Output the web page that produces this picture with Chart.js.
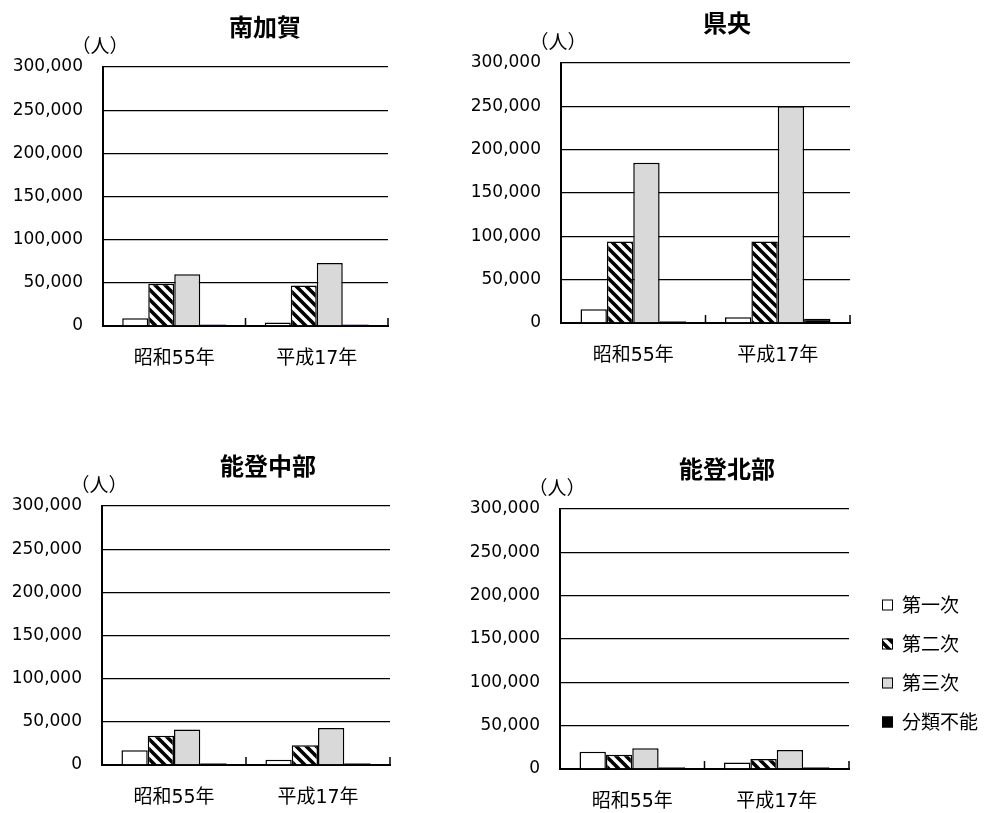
<!DOCTYPE html>
<html>
<head>
<meta charset="utf-8">
<script src="https://cdn.jsdelivr.net/npm/chart.js@4.4.0/dist/chart.umd.min.js"></script>
<style>
  body { margin: 0; background: #fff; overflow: hidden; width: 985px; height: 813px; position: relative; }
  canvas { position: absolute; }
</style>
</head>
<body>
<canvas id="c1" width="530" height="374" style="left:0;top:0"></canvas>
<canvas id="c2" width="514" height="371" style="left:470px;top:0"></canvas>
<canvas id="c3" width="536" height="393" style="left:0;top:420px"></canvas>
<canvas id="c4" width="514" height="397" style="left:470px;top:420px"></canvas>
<script>
const categories = ['昭和55年', '平成17年'];
const seriesNames = ['第一次', '第二次', '第三次', '分類不能'];
const yMax = 300000;
const yStep = 50000;

// per region: [第一次, 第二次, 第三次, 分類不能], each [昭和55年, 平成17年]
const minamiKaga = [[9000, 4000], [49000, 47000], [60000, 73000], [2000, 2000]];
const kenou = [[16000, 6500], [94000, 94000], [185000, 250000], [2000, 5000]];
const notoChubu = [[17000, 6000], [34000, 23000], [41000, 43000], [2000, 2000]];
const notoHokubu = [[20000, 7500], [16500, 11500], [24000, 22000], [2000, 2000]];

const tickFont = { family: "'DejaVu Sans'", size: 17 };
const catFont = { family: "'DejaVu Sans', 'Noto Sans CJK JP'", size: 19 };
const cjk = "'Noto Sans CJK JP'";

function makeHatch() {
  const size = 10;
  const c = document.createElement('canvas');
  c.width = size;
  c.height = size;
  const g = c.getContext('2d');
  g.fillStyle = '#fff';
  g.fillRect(0, 0, size, size);
  g.strokeStyle = '#000';
  g.lineWidth = 3.6;
  g.beginPath();
  g.moveTo(-2, -2); g.lineTo(size + 2, size + 2);
  g.moveTo(-2, size - 2); g.lineTo(2, size + 2);
  g.moveTo(size - 2, -2); g.lineTo(size + 2, 2);
  g.stroke();
  return g.createPattern(c, 'repeat');
}

const fills = ['#ffffff', makeHatch(), '#d9d9d9', '#000000'];

// title centred on the canvas, and （人） above the y axis
const titleAndUnit = {
  id: 'titleAndUnit',
  afterDraw(chart, args, opts) {
    const ctx = chart.ctx;
    ctx.save();
    ctx.fillStyle = '#000';
    ctx.textAlign = 'center';
    ctx.textBaseline = 'middle';
    ctx.font = "bold 24px " + cjk;
    ctx.fillText(opts.text, chart.width / 2, opts.y);
    ctx.font = "19px " + cjk;
    ctx.fillText('（人）', chart.chartArea.left - 3, chart.chartArea.top - 21);
    ctx.restore();
  }
};

// small upward ticks at category boundaries
const boundaryTicks = {
  id: 'boundaryTicks',
  afterDraw(chart) {
    const ctx = chart.ctx;
    const xs = chart.scales.x;
    const bottom = chart.chartArea.bottom;
    ctx.save();
    ctx.strokeStyle = '#000';
    ctx.lineWidth = 1.5;
    categories.forEach((c, i) => {
      const x = xs.getPixelForValue(i + 0.5);
      ctx.beginPath();
      ctx.moveTo(x, bottom);
      ctx.lineTo(x, bottom - 8);
      ctx.stroke();
    });
    ctx.restore();
  }
};

const sideLegend = {
  id: 'sideLegend',
  afterDraw(chart) {
    const ctx = chart.ctx;
    const area = chart.chartArea;
    ctx.save();
    ctx.font = "19px " + cjk;
    ctx.textBaseline = 'middle';
    chart.data.datasets.forEach((ds, i) => {
      const y = area.top + 96 + i * 39;
      const x = area.right + 33;
      ctx.fillStyle = ds.backgroundColor;
      ctx.fillRect(x, y - 5.5, 11, 11);
      ctx.strokeStyle = '#000';
      ctx.lineWidth = 1;
      ctx.strokeRect(x + 0.5, y - 5, 10, 10);
      ctx.fillStyle = '#000';
      ctx.fillText(ds.label, x + 20, y);
    });
    ctx.restore();
  }
};

function drawRegion(id, title, values, opt) {
  const extra = [titleAndUnit, boundaryTicks];
  if (opt.legend) extra.push(sideLegend);
  new Chart(document.getElementById(id), {
    type: 'bar',
    data: {
      labels: categories,
      datasets: values.map((v, i) => ({
        label: seriesNames[i],
        data: v,
        backgroundColor: (i == 3 && opt.lastColor) ? opt.lastColor : fills[i],
        borderColor: (i == 3 && opt.lastColor) ? opt.lastColor : '#000',
        borderWidth: 1.5,
        categoryPercentage: 0.73,
        barPercentage: 1
      }))
    },
    options: {
      responsive: false,
      animation: false,
      layout: { padding: { left: 0, right: opt.padRight, top: opt.top, bottom: 0 } },
      plugins: {
        legend: { display: false },
        tooltip: { enabled: false },
        title: { display: false },
        titleAndUnit: { text: title, y: opt.titleY }
      },
      scales: {
        x: {
          grid: { display: false, drawTicks: false },
          border: { display: true, color: '#000', width: 2 },
          ticks: { color: '#000', font: catFont, padding: 22 },
          afterFit: (s) => { s.height = 48; }
        },
        y: {
          min: 0,
          max: yMax,
          ticks: {
            stepSize: yStep,
            color: '#000',
            font: tickFont,
            padding: 20,
            callback: (v) => v.toLocaleString('en-US')
          },
          grid: { color: '#000', lineWidth: 1.3, drawTicks: false },
          border: { display: true, color: '#000', width: 2 },
          afterFit: (s) => { s.width = opt.yWidth; }
        }
      }
    },
    plugins: extra
  });
}

drawRegion('c1', '南加賀', minamiKaga, { yWidth: 103, padRight: 142, top: 67, titleY: 27, lastColor: '#7f5fa0' });
drawRegion('c2', '県央', kenou, { yWidth: 91, padRight: 134, top: 63, titleY: 23 });
drawRegion('c3', '能登中部', notoChubu, { yWidth: 102, padRight: 146, top: 86, titleY: 46 });
drawRegion('c4', '能登北部', notoHokubu, { yWidth: 90, padRight: 135, top: 89, titleY: 49, legend: true });
</script>
</body>
</html>
